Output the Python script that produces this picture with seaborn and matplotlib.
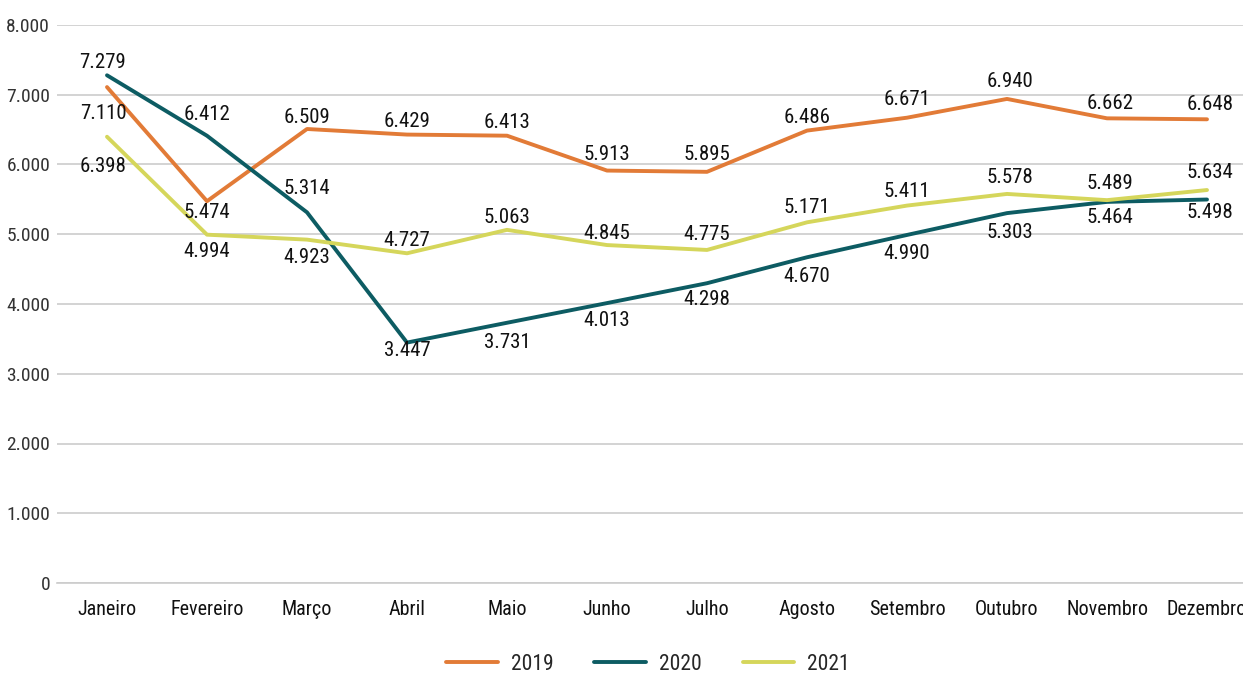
import seaborn as sns
import pandas as pd
import matplotlib.pyplot as plt

meses = ['Janeiro', 'Fevereiro', 'Março', 'Abril', 'Maio', 'Junho', 'Julho',
         'Agosto', 'Setembro', 'Outubro', 'Novembro', 'Dezembro']
v2019 = [7110, 5474, 6509, 6429, 6413, 5913, 5895, 6486, 6671, 6940, 6662, 6648]
v2020 = [7279, 6412, 5314, 3447, 3731, 4013, 4298, 4670, 4990, 5303, 5464, 5498]
v2021 = [6398, 4994, 4923, 4727, 5063, 4845, 4775, 5171, 5411, 5578, 5489, 5634]
anos = ['2019', '2020', '2021']
cores = ['#E27B37', '#0D5C63', '#D5D65B']

# vertical label offsets in pixels (positive = above the point)
off2019 = [-26, -11, 11, 13, 13, 16, 17, 13, 18, 17, 15, 15]
off2020 = [13, 21, 24, -8, -20, -17, -16, -19, -19, -19, -16, -13]
off2021 = [-30, -17, -18, 13, 12, 12, 15, 15, 14, 16, 17, 18]

df = pd.DataFrame({
    'Mes': meses * 3,
    'Valor': v2019 + v2020 + v2021,
    'Ano': [a for a in anos for _ in meses],
})

sns.set_style('white')
plt.rcParams['font.family'] = ['Roboto Condensed', 'DejaVu Sans']
plt.rcParams['font.stretch'] = 'condensed'

fig = plt.figure(figsize=(12.43, 6.75), dpi=100)
ax = fig.add_axes([57 / 1243, 92 / 675, 1200 / 1243, 558 / 675])

sns.lineplot(data=df, x='Mes', y='Valor', hue='Ano', palette=cores,
             linewidth=2.8, sort=False, ax=ax)

def fmt(v):
    return f'{v:,}'.replace(',', '.')

for vals, offs in [(v2019, off2019), (v2020, off2020), (v2021, off2021)]:
    for i, (v, dy) in enumerate(zip(vals, offs)):
        dx = -4 if i == 0 else (3 if i >= 9 else 0)
        ax.annotate(fmt(v), (i, v), xytext=(dx, dy), textcoords='offset pixels',
                    ha='center', va='center', fontsize=15, color='#111111')

ax.set_xlim(-0.5, 11.5)
ax.set_ylim(0, 8000)
ax.set_yticks(range(0, 8001, 1000))
ax.set_yticklabels([fmt(v) for v in range(0, 8001, 1000)], fontsize=14, color='#333333')
ax.set_xticks(range(12))
ax.set_xticklabels(meses, fontsize=14.5, color='#111111')
ax.tick_params(axis='x', length=0, pad=12)
ax.tick_params(axis='y', length=0, pad=5)
ax.set_xticks([i - 0.5 for i in range(13)], minor=True)
ax.tick_params(axis='x', which='minor', length=8, color='#cccccc', width=1.2)
ax.yaxis.grid(True, color='#cccccc', linewidth=1.2)
ax.set_axisbelow(True)
for s in ['top', 'right', 'left']:
    ax.spines[s].set_visible(False)
ax.spines['bottom'].set_color('#cccccc')
ax.spines['bottom'].set_linewidth(1.2)
ax.set_xlabel('')
ax.set_ylabel('')

handles, labels = ax.get_legend_handles_labels()
ax.legend(handles, labels, loc='center', bbox_to_anchor=(648 / 1243, 11 / 675),
          bbox_transform=fig.transFigure, ncol=3, frameon=False,
          prop={'size': 15.5}, handlelength=2.4, handletextpad=0.6,
          columnspacing=1.9)

fig.savefig('out.png', dpi=100)
